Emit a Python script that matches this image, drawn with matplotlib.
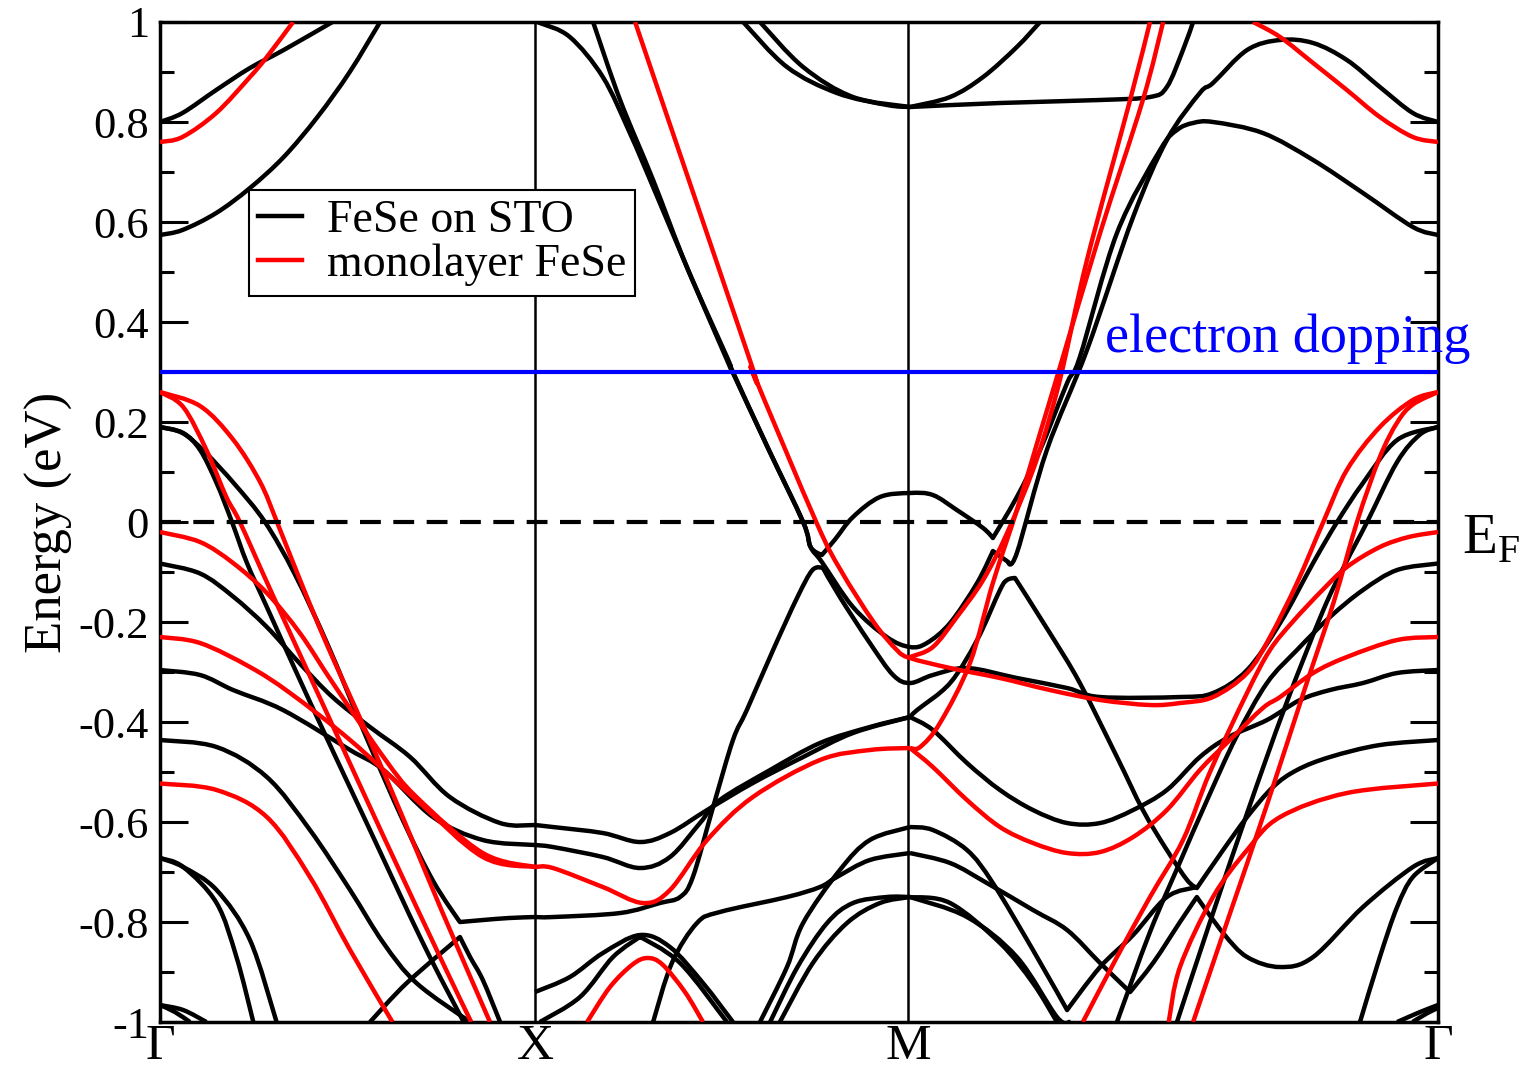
import numpy as np
import matplotlib.pyplot as plt
from matplotlib.path import Path
from matplotlib.patches import PathPatch

plt.rcParams['font.family'] = ['Liberation Serif', 'DejaVu Serif']

# high-symmetry points along the k-path
k_ticks = [0.0, 1.0, 1.995, 3.408]
k_labels = ['Γ', 'X', 'M', 'Γ']

# ---- FeSe on STO (black), pieces of bands as (k, E) ----
sto_g08 = ([0, 0.06, 0.15, 0.24, 0.33, 0.46], [0.80, 0.818, 0.864, 0.908, 0.944, 1.0])
sto_g057 = ([0, 0.06, 0.15, 0.24, 0.33, 0.42, 0.506, 0.587],
            [0.574, 0.584, 0.618, 0.668, 0.73, 0.81, 0.90, 1.0])
sto_g019_in = ([0, 0.062, 0.107, 0.151, 0.192, 0.232, 0.285, 0.4, 0.55, 0.7, 0.81],
               [0.19, 0.178, 0.144, 0.078, 0.0, -0.082, -0.17, -0.36, -0.6, -0.84, -1.0])
sto_g019_out = ([0, 0.06, 0.12, 0.2, 0.28, 0.36, 0.45, 0.55, 0.65, 0.73, 0.8, 0.861, 0.93, 1.0],
                [0.19, 0.178, 0.14, 0.075, 0.0, -0.105, -0.25, -0.43, -0.6, -0.72, -0.80, -0.796, -0.792, -0.79])
sto_gm008 = ([0, 0.107, 0.195, 0.285, 0.373, 0.46, 0.56, 0.667, 0.773, 0.907, 1.0],
             [-0.083, -0.103, -0.149, -0.21, -0.283, -0.35, -0.41, -0.47, -0.55, -0.602, -0.606])
sto_gm03 = ([0, 0.107, 0.195, 0.328, 0.507, 0.596, 0.728, 0.861, 1.0],
            [-0.296, -0.306, -0.336, -0.376, -0.456, -0.496, -0.59, -0.636, -0.646])
sto_gm044 = ([0, 0.151, 0.285, 0.4, 0.507, 0.596, 0.684, 0.827],
             [-0.436, -0.45, -0.51, -0.616, -0.736, -0.842, -0.922, -1.0])
sto_gm067a = ([0, 0.062, 0.151, 0.204, 0.249], [-0.672, -0.69, -0.762, -0.87, -1.0])
sto_gm067b = ([0, 0.062, 0.151, 0.24, 0.311], [-0.672, -0.69, -0.736, -0.836, -1.0])
sto_gm097a = ([0, 0.062, 0.124], [-0.966, -0.976, -1.0])
sto_gm097b = ([0, 0.04, 0.08], [-0.966, -0.98, -1.0])
sto_gx_rise = ([0.56, 0.658, 0.8, 0.827, 0.861, 0.907], [-1.0, -0.922, -0.83, -0.87, -0.916, -1.0])

sto_x_top_a = ([1.0, 1.013, 1.093, 1.181, 1.253, 1.315, 1.405, 1.512, 1.528, 1.62, 1.715, 1.735, 1.765,
                1.80, 1.848, 1.92, 2.0, 2.061, 2.125, 2.195, 2.221, 2.285, 2.347, 2.419, 2.453, 2.552,
                2.667, 2.712, 2.755, 2.808, 2.941, 3.075, 3.208, 3.341, 3.408],
               [1.0, 0.998, 0.97, 0.89, 0.778, 0.67, 0.51, 0.324, 0.298, 0.15, 0.0, -0.05, -0.066,
                -0.035, 0.01, 0.05, 0.058, 0.054, 0.024, -0.012, -0.032, 0.05, 0.144, 0.278, 0.33, 0.578,
                0.744, 0.784, 0.798, 0.80, 0.778, 0.724, 0.658, 0.59, 0.574])
sto_x_top_b = ([1.155, 1.227, 1.315, 1.405, 1.512, 1.528, 1.62, 1.715, 1.735, 1.765, 1.848, 1.938, 2.0,
                2.045, 2.107, 2.179, 2.221, 2.262, 2.285, 2.365, 2.472, 2.595, 2.685,
                2.773, 2.808, 2.899, 2.987, 3.075, 3.165, 3.253, 3.341, 3.408],
               [1.0, 0.844, 0.684, 0.51, 0.33, 0.30, 0.15, 0.0, -0.05, -0.08, -0.17, -0.23, -0.25,
                -0.242, -0.202, -0.122, -0.058, -0.08, -0.062, 0.144, 0.344, 0.61, 0.764,
                0.858, 0.878, 0.944, 0.964, 0.958, 0.924, 0.87, 0.818, 0.80])
sto_x_m079 = ([1.0, 1.048, 1.227, 1.333, 1.387, 1.421, 1.475, 1.528, 1.565, 1.635, 1.7, 1.74, 1.768,
               1.813, 1.893, 1.955, 2.0, 2.061, 2.152, 2.285, 2.419, 2.507, 2.72, 2.808, 2.899,
               2.987, 3.075, 3.139, 3.208, 3.299, 3.408],
              [-0.79, -0.79, -0.782, -0.762, -0.75, -0.71, -0.57, -0.436, -0.376, -0.256, -0.15, -0.096, -0.092,
               -0.15, -0.242, -0.306, -0.322, -0.306, -0.292, -0.312, -0.332, -0.35, -0.35, -0.342, -0.296,
               -0.202, -0.082, 0.0, 0.078, 0.164, 0.19])
sto_x_m061 = ([1.0, 1.048, 1.181, 1.28, 1.36, 1.459, 1.581, 1.715, 1.848, 2.0],
              [-0.606, -0.61, -0.622, -0.64, -0.622, -0.576, -0.522, -0.47, -0.422, -0.39])
sto_x_m065 = ([1.0, 1.048, 1.181, 1.28, 1.36, 1.44, 1.493, 1.627, 1.76, 1.893, 2.0],
              [-0.646, -0.65, -0.67, -0.692, -0.67, -0.602, -0.556, -0.496, -0.442, -0.41, -0.39])
sto_x_m094 = ([1.0, 1.093, 1.181, 1.28, 1.36, 1.448, 1.528],
              [-0.94, -0.91, -0.862, -0.826, -0.85, -0.922, -1.0])
sto_x_rise = ([1.013, 1.12, 1.208, 1.28, 1.387, 1.512], [-1.0, -0.95, -0.87, -0.83, -0.882, -1.0])
sto_xm_066 = ([1.315, 1.365, 1.432, 1.493, 1.672, 1.76, 1.805, 1.893, 2.0],
              [-1.0, -0.882, -0.802, -0.78, -0.75, -0.73, -0.71, -0.676, -0.662])
sto_xm_061 = ([1.6, 1.672, 1.715, 1.813, 1.893, 2.0], [-1.0, -0.89, -0.802, -0.696, -0.636, -0.61])
sto_xm_075a = ([1.627, 1.7, 1.779, 1.848, 1.938, 2.0], [-1.0, -0.89, -0.802, -0.762, -0.75, -0.75])
sto_xm_075b = ([1.653, 1.741, 1.832, 1.92, 2.0], [-1.0, -0.882, -0.802, -0.762, -0.75])
sto_m083_l1 = ([1.555, 1.672, 1.805, 1.939, 2.0], [1.0, 0.91, 0.858, 0.834, 0.83])
sto_m083_l2 = ([1.6, 1.715, 1.848, 2.0], [1.0, 0.91, 0.85, 0.83])
sto_m083_up = ([2.0, 2.107, 2.195, 2.285, 2.347], [0.83, 0.85, 0.89, 0.95, 1.0])
sto_m083_flat = ([2.0, 2.24, 2.507, 2.64, 2.685, 2.728, 2.755], [0.83, 0.838, 0.844, 0.85, 0.87, 0.944, 1.0])
sto_m039_dn = ([2.0, 2.061, 2.152, 2.24, 2.328, 2.419, 2.507, 2.595, 2.685, 2.773, 2.85, 2.952,
                3.04, 3.12, 3.208, 3.299, 3.408],
               [-0.39, -0.416, -0.482, -0.536, -0.576, -0.602, -0.602, -0.576, -0.536, -0.47, -0.43, -0.396,
                -0.356, -0.336, -0.322, -0.302, -0.296])
sto_m039_up = ([2.0, 2.019, 2.107, 2.179, 2.24, 2.259, 2.28, 2.373, 2.453, 2.552, 2.621, 2.685, 2.739,
                2.765, 2.835, 2.899, 2.968, 3.032, 3.12, 3.253, 3.408],
               [-0.39, -0.376, -0.322, -0.236, -0.136, -0.116, -0.112, -0.222, -0.322, -0.47, -0.576, -0.656,
                -0.716, -0.732, -0.656, -0.59, -0.53, -0.496, -0.47, -0.446, -0.436])
sto_m061_r = ([2.0, 2.061, 2.152, 2.221, 2.328, 2.419, 2.507, 2.595, 2.685, 2.765],
              [-0.61, -0.616, -0.656, -0.722, -0.856, -0.976, -0.89, -0.826, -0.75, -0.73])
sto_m066_r = ([2.0, 2.107, 2.205, 2.328, 2.419, 2.507, 2.587, 2.65, 2.72, 2.765, 2.835, 2.899, 2.987,
               3.075, 3.208, 3.341, 3.408],
              [-0.662, -0.682, -0.722, -0.776, -0.816, -0.882, -0.94, -0.88, -0.8, -0.75, -0.822, -0.87, -0.89,
               -0.87, -0.77, -0.69, -0.672])
sto_m075_ra = ([2.0, 2.107, 2.24, 2.328, 2.392], [-0.75, -0.762, -0.842, -0.922, -1.0])
sto_m075_rb = ([2.0, 2.152, 2.285, 2.392, 2.427], [-0.75, -0.79, -0.87, -0.99, -1.0])
sto_g067_r = ([3.2, 3.253, 3.299, 3.341, 3.408], [-1.0, -0.87, -0.77, -0.71, -0.672])
sto_g097_r = ([3.299, 3.36, 3.408], [-1.0, -0.98, -0.966])
sto_g097_r2 = ([3.34, 3.38, 3.408], [-1.0, -0.982, -0.972])
sto_g019_r = ([2.712, 2.8, 2.9, 3.0, 3.1, 3.16, 3.219, 3.299, 3.36, 3.408],
              [-1.0, -0.8, -0.58, -0.37, -0.18, -0.085, 0.0, 0.12, 0.175, 0.19])
sto_g008_r = ([2.552, 2.64, 2.72, 2.79, 2.87, 2.952, 3.032, 3.12, 3.208, 3.299, 3.408],
              [-1.0, -0.82, -0.68, -0.56, -0.43, -0.322, -0.256, -0.19, -0.136, -0.096, -0.083])

# ---- monolayer FeSe (red) ----
mono_g076 = ([0, 0.06, 0.15, 0.24, 0.285, 0.355], [0.76, 0.77, 0.818, 0.89, 0.93, 1.0])
mono_g026_in = ([0, 0.062, 0.124, 0.177, 0.213, 0.3, 0.45, 0.6, 0.75, 0.83],
                [0.26, 0.23, 0.144, 0.05, 0.0, -0.145, -0.39, -0.635, -0.875, -1.0])
mono_g026_out = ([0, 0.107, 0.195, 0.267, 0.312, 0.373, 0.445, 0.55, 0.65, 0.75, 0.88],
                 [0.26, 0.232, 0.165, 0.08, 0.0, -0.115, -0.245, -0.42, -0.595, -0.775, -1.0])
mono_gm002 = ([0, 0.107, 0.195, 0.285, 0.373, 0.461, 0.596, 0.684, 0.861, 1.0],
              [-0.02, -0.04, -0.082, -0.142, -0.222, -0.322, -0.47, -0.55, -0.662, -0.69])
mono_gm023 = ([0, 0.107, 0.24, 0.347, 0.507, 0.684, 0.861, 1.0],
              [-0.23, -0.242, -0.29, -0.342, -0.436, -0.556, -0.67, -0.69])
mono_gm052 = ([0, 0.151, 0.285, 0.4, 0.507, 0.62], [-0.523, -0.536, -0.59, -0.71, -0.856, -1.0])
mono_x_m069 = ([1.0, 1.048, 1.181, 1.288, 1.36, 1.459, 1.581, 1.76, 1.893, 2.0],
               [-0.69, -0.692, -0.73, -0.762, -0.736, -0.636, -0.55, -0.476, -0.456, -0.452])
mono_xm_hump = ([1.139, 1.2, 1.26, 1.3, 1.34, 1.40, 1.448], [-1.0, -0.93, -0.885, -0.872, -0.885, -0.94, -1.0])
mono_xm_steep = ([1.267, 1.573, 1.582, 1.75, 1.815, 1.903, 1.965, 2.0, 2.107, 2.24, 2.373, 2.507, 2.64,
                  2.72, 2.808, 2.899, 2.96, 3.032, 3.101, 3.165, 3.253, 3.341, 3.408],
                 [1.0, 0.324, 0.298, 0.0, -0.096, -0.2, -0.256, -0.272, -0.292, -0.312, -0.336, -0.356, -0.366,
                  -0.362, -0.35, -0.302, -0.23, -0.122, -0.002, 0.104, 0.19, 0.244, 0.26])
mono_m027_up = ([2.0, 2.061, 2.125, 2.195, 2.259, 2.328, 2.373, 2.408, 2.472, 2.587, 2.64],
                [-0.27, -0.25, -0.19, -0.116, -0.022, 0.104, 0.21, 0.31, 0.524, 0.844, 1.0])
mono_m045_up = ([2.0, 2.027, 2.08, 2.16, 2.221, 2.285, 2.347, 2.4, 2.507, 2.621, 2.675],
                [-0.452, -0.45, -0.402, -0.282, -0.122, 0.024, 0.178, 0.31, 0.578, 0.844, 1.0])
mono_m045_dn = ([2.0, 2.061, 2.152, 2.24, 2.328, 2.419, 2.507, 2.595, 2.685, 2.773, 2.853, 2.941,
                 2.987, 3.075, 3.165, 3.299, 3.408],
                [-0.452, -0.49, -0.556, -0.61, -0.642, -0.662, -0.66, -0.63, -0.576, -0.496, -0.436, -0.372,
                 -0.35, -0.302, -0.27, -0.236, -0.23])
mono_g052_r = ([2.69, 2.72, 2.808, 2.899, 2.987, 3.165, 3.408], [-1.0, -0.89, -0.75, -0.656, -0.59, -0.542, -0.523])
mono_g026_r = ([2.755, 2.85, 2.95, 3.05, 3.13, 3.192, 3.253, 3.30, 3.341, 3.408],
               [-1.0, -0.79, -0.57, -0.34, -0.16, 0.0, 0.13, 0.2, 0.235, 0.26])
mono_g002_r = ([2.461, 2.552, 2.64, 2.728, 2.8, 2.9, 2.96, 3.02, 3.1, 3.165, 3.253, 3.33, 3.408],
               [-1.0, -0.87, -0.75, -0.636, -0.5, -0.34, -0.256, -0.2, -0.136, -0.09, -0.05, -0.03, -0.02])
mono_g076_r = ([2.915, 2.987, 3.075, 3.165, 3.253, 3.341, 3.408], [1.0, 0.97, 0.918, 0.864, 0.81, 0.77, 0.76])

sto_bands = [sto_g08, sto_g057, sto_g019_in, sto_g019_out, sto_gm008, sto_gm03, sto_gm044,
             sto_gm067a, sto_gm067b, sto_gm097a, sto_gm097b, sto_gx_rise, sto_x_top_a, sto_x_top_b,
             sto_x_m079, sto_x_m061, sto_x_m065, sto_x_m094, sto_x_rise, sto_xm_066, sto_xm_061,
             sto_xm_075a, sto_xm_075b, sto_m083_l1, sto_m083_l2, sto_m083_up, sto_m083_flat,
             sto_m039_dn, sto_m039_up, sto_m061_r, sto_m066_r, sto_m075_ra, sto_m075_rb,
             sto_g067_r, sto_g097_r, sto_g097_r2, sto_g019_r, sto_g008_r]
mono_bands = [mono_g076, mono_g026_in, mono_g026_out, mono_gm002, mono_gm023, mono_gm052,
              mono_x_m069, mono_xm_hump, mono_xm_steep, mono_m027_up, mono_m045_up, mono_m045_dn,
              mono_g052_r, mono_g026_r, mono_g002_r, mono_g076_r]


def band_path(k, e):
    # smooth curve through the read points (cubic Bezier segments);
    # sharp turns (band kinks) are kept as corners
    p = np.column_stack([k, e]).astype(float)
    sc = np.array([375.0, 500.0])  # rough pixel aspect, only to judge corners
    n = len(p)
    tang = np.zeros_like(p)
    for i in range(n):
        a = p[max(i - 1, 0)]
        b = p[min(i + 1, n - 1)]
        tang[i] = (b - a) / 2.0
        if 0 < i < n - 1:
            d1 = (p[i] - a) * sc
            d2 = (b - p[i]) * sc
            c = np.dot(d1, d2) / (np.linalg.norm(d1) * np.linalg.norm(d2) + 1e-12)
            if c < 0.55:
                tang[i] = 0.0
    verts = [p[0]]
    codes = [Path.MOVETO]
    for i in range(n - 1):
        verts += [p[i] + tang[i] / 3.0, p[i + 1] - tang[i + 1] / 3.0, p[i + 1]]
        codes += [Path.CURVE4] * 3
    return Path(verts, codes)


fig = plt.figure(figsize=(15.22, 10.73), dpi=100)
ax = fig.add_axes([0.1051, 0.0475, 0.8397, 0.932])

lw = 3.2
for k, e in sto_bands:
    ax.add_patch(PathPatch(band_path(k, e), fill=False, edgecolor='black', lw=lw,
                           joinstyle='round', capstyle='butt', zorder=3))
for k, e in mono_bands:
    ax.add_patch(PathPatch(band_path(k, e), fill=False, edgecolor='red', lw=lw,
                           joinstyle='round', capstyle='butt', zorder=3))

# legend handles
ax.plot([], [], color='black', lw=lw, label='FeSe on STO')
ax.plot([], [], color='red', lw=lw, label='monolayer FeSe')

for kt in k_ticks[1:-1]:
    ax.axvline(kt, color='black', lw=1.8, zorder=2)
ax.axhline(0.0, color='black', lw=3, ls=(0, (5, 3)), zorder=4)
ax.axhline(0.3, color='blue', lw=3, zorder=4)

ax.set_xlim(k_ticks[0], k_ticks[-1])
ax.set_ylim(-1, 1)
ax.set_xticks(k_ticks)
ax.set_xticklabels(k_labels, fontsize=37)
ax.tick_params(axis='x', length=0, pad=1)
yt = np.round(np.arange(-1, 1.01, 0.2), 1)
ax.set_yticks(yt)
ax.set_yticklabels(['-1', '-0.8', '-0.6', '-0.4', '-0.2', '0', '0.2', '0.4', '0.6', '0.8', '1'], fontsize=32)
ax.set_yticks(np.round(np.arange(-0.9, 1.0, 0.2), 1), minor=True)
ax.tick_params(axis='y', which='major', direction='in', length=20, width=2.2, right=True, pad=8)
ax.tick_params(axis='y', which='minor', direction='in', length=10, width=2.2, right=True)
for s in ax.spines.values():
    s.set_linewidth(2.5)
ax.set_ylabel('Energy (eV)', fontsize=38, labelpad=4)

ax.text(1.0188, 0.016, r'E$_\mathregular{F}$', transform=ax.get_yaxis_transform(), fontsize=41,
        va='top', ha='left')
ax.text(2.52, 0.34, 'electron dopping', color='blue', fontsize=39, ha='left', va='baseline',
        clip_on=False, zorder=5)

leg = ax.legend(loc='upper left', bbox_to_anchor=(0.0696, 0.832), borderaxespad=0, fontsize=33,
                frameon=True, fancybox=False, edgecolor='black', handlelength=0.95, handletextpad=0.55,
                borderpad=0.2, labelspacing=0.05, framealpha=1)
leg.get_frame().set_linewidth(1.5)
leg.set_zorder(6)

fig.savefig('out.png', dpi=100)
